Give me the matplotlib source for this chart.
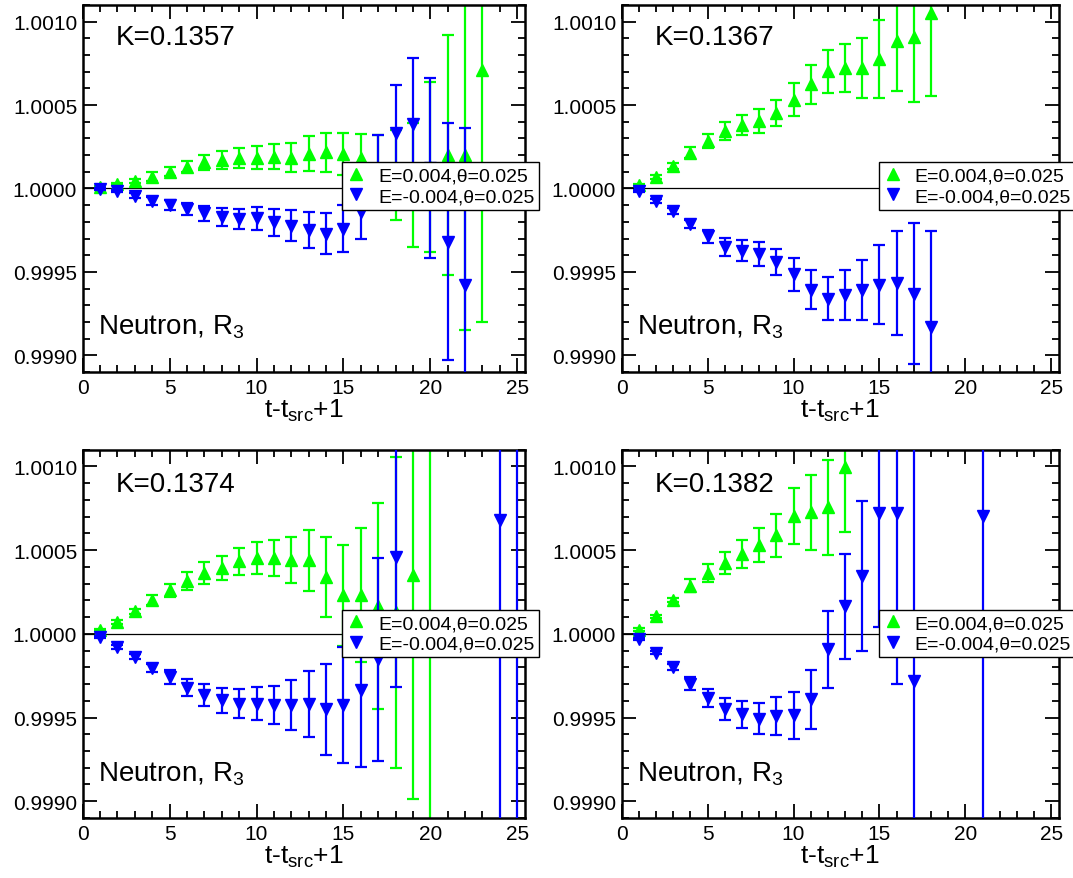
import matplotlib
matplotlib.use('Agg')
import matplotlib.pyplot as plt
from matplotlib.lines import Line2D
from matplotlib.ticker import MultipleLocator, FormatStrFormatter
import numpy as np

plt.rcParams['font.family'] = ['Liberation Sans', 'DejaVu Sans']
plt.rcParams['mathtext.fontset'] = 'custom'
plt.rcParams['mathtext.rm'] = 'Liberation Sans'
plt.rcParams['mathtext.it'] = 'Liberation Sans'

# ratio - 1, in units of 1e-4 ; t = 1, 2, ...
k_labels = ['K=0.1357', 'K=0.1367', 'K=0.1374', 'K=0.1382']
legend_labels = ['E=0.004,θ=0.025', 'E=-0.004,θ=0.025']

# K=0.1357
p1_up_t = list(range(1, 24))
p1_up_dev = [0.1, 0.24, 0.44, 0.7, 1.0, 1.3, 1.56, 1.7, 1.8, 1.84, 1.9, 1.84, 2.08, 2.16, 2.04, 1.84,
             1.2, 0.8, 0.2, 1.3, 2.0, 2.0, 7.1]
p1_up_err = [0.04, 0.06, 0.12, 0.26, 0.28, 0.34, 0.44, 0.52, 0.6, 0.68, 0.76, 0.86, 1.04, 1.16, 1.26, 1.4,
             2.0, 2.7, 3.7, 5.1, 7.2, 10.5, 15.1]
p1_dn_t = list(range(1, 23))
p1_dn_dev = [-0.04, -0.16, -0.44, -0.74, -1.0, -1.24, -1.5, -1.7, -1.84, -1.8, -2.04, -2.24, -2.5, -2.7,
             -2.4, -1.44, 1.0, 3.3, 3.84, 1.24, -3.2, -5.8]
p1_dn_err = [0.04, 0.08, 0.16, 0.24, 0.3, 0.36, 0.44, 0.54, 0.58, 0.66, 0.8, 0.92, 1.06, 1.22, 1.4, 1.56,
             2.2, 2.9, 4.0, 5.4, 7.1, 9.4]

# K=0.1367
p2_up_t = list(range(1, 19))
p2_up_dev = [0.2, 0.7, 1.35, 2.15, 2.84, 3.44, 3.8, 4.04, 4.53, 5.33, 6.26, 7.02, 7.22, 7.22, 7.77, 8.85,
             9.1, 10.5]
p2_up_err = [0.06, 0.12, 0.16, 0.32, 0.42, 0.54, 0.62, 0.7, 0.8, 1.0, 1.17, 1.29, 1.43, 1.79, 2.35, 3.02,
             3.94, 4.97]
p2_dn_t = list(range(1, 19))
p2_dn_dev = [-0.18, -0.74, -1.37, -2.13, -2.86, -3.48, -3.72, -3.92, -4.41, -5.15, -6.06, -6.6, -6.4,
             -6.1, -5.77, -5.67, -6.3, -8.29]
p2_dn_err = [0.06, 0.12, 0.18, 0.24, 0.4, 0.54, 0.62, 0.7, 0.8, 0.97, 1.15, 1.29, 1.49, 1.81, 2.37, 3.14,
             4.21, 5.77]

# K=0.1374
p3_up_t = list(range(1, 21))
p3_up_dev = [0.22, 0.7, 1.35, 2.05, 2.6, 3.14, 3.64, 3.94, 4.33, 4.53, 4.53, 4.39, 4.39, 3.4, 2.31, 2.31,
             1.65, 1.29, 3.54, 0.4]
p3_up_err = [0.06, 0.12, 0.14, 0.3, 0.4, 0.54, 0.66, 0.74, 0.82, 0.93, 1.09, 1.37, 1.83, 2.37, 3.02, 4.02,
             6.16, 9.28, 13.38, 12.0]
p3_dn_t = list(range(1, 19)) + [24, 25]
p3_dn_dev = [-0.2, -0.78, -1.37, -2.03, -2.58, -3.22, -3.68, -3.98, -4.17, -4.17, -4.27, -4.25, -4.17,
             -4.51, -4.25, -3.38, -1.53, 4.59, 6.82, 0.2]
p3_dn_err = [0.06, 0.1, 0.14, 0.24, 0.4, 0.52, 0.66, 0.76, 0.85, 0.99, 1.13, 1.51, 1.97, 2.7, 3.48, 4.55,
             6.06, 7.75, 19.0, 13.0]

# K=0.1382
p4_up_t = list(range(1, 14))
p4_up_dev = [0.26, 1.05, 2.0, 2.88, 3.64, 4.23, 4.79, 5.33, 5.88, 7.02, 7.26, 7.55, 9.94]
p4_up_err = [0.08, 0.1, 0.12, 0.38, 0.56, 0.66, 0.84, 1.01, 1.27, 1.67, 2.25, 2.84, 3.86]
p4_dn_t = list(range(1, 18)) + [21]
p4_dn_dev = [-0.28, -1.13, -1.99, -2.98, -3.82, -4.47, -4.81, -5.07, -4.91, -4.87, -3.92, -0.93, 1.65,
             3.44, 7.22, 7.22, -2.82, 7.06]
p4_dn_err = [0.06, 0.1, 0.16, 0.4, 0.54, 0.66, 0.8, 0.93, 1.11, 1.41, 1.79, 2.31, 3.14, 4.47, 6.82, 10.2,
             15.0, 19.0]

panels = [
    (p1_up_t, p1_up_dev, p1_up_err, p1_dn_t, p1_dn_dev, p1_dn_err),
    (p2_up_t, p2_up_dev, p2_up_err, p2_dn_t, p2_dn_dev, p2_dn_err),
    (p3_up_t, p3_up_dev, p3_up_err, p3_dn_t, p3_dn_dev, p3_dn_err),
    (p4_up_t, p4_up_dev, p4_up_err, p4_dn_t, p4_dn_dev, p4_dn_err),
]

green = '#00ff00'
blue = '#0000ff'

fig = plt.figure(figsize=(10.73, 8.79), dpi=100)
boxes = [
    [0.0771, 0.5757, 0.4122, 0.4175],
    [0.5794, 0.5757, 0.4076, 0.4175],
    [0.0771, 0.0683, 0.4122, 0.4189],
    [0.5794, 0.0683, 0.4076, 0.4189],
]
leg_pos = [(0.586, 0.572), (0.588, 0.572), (0.586, 0.566), (0.588, 0.566)]
k_y = [0.913, 0.913, 0.907, 0.907]
n_y = [0.125, 0.125, 0.122, 0.122]

for i, (box, data) in enumerate(zip(boxes, panels)):
    ax = fig.add_axes(box)
    ut, ud, ue, dt, dd, de = data
    ax.axhline(1.0, color='black', lw=0.9, zorder=1)
    ax.errorbar(ut, 1 + np.array(ud) * 1e-4, yerr=np.array(ue) * 1e-4, fmt='^', color=green,
                ms=9, elinewidth=1.6, capsize=4.5, capthick=1.6, zorder=2)
    ax.errorbar(dt, 1 + np.array(dd) * 1e-4, yerr=np.array(de) * 1e-4, fmt='v', color=blue,
                ms=9, elinewidth=1.6, capsize=4.5, capthick=1.6, zorder=3)

    ax.set_xlim(0, 25.45)
    ax.set_ylim(0.9989, 1.0011)
    ax.xaxis.set_major_locator(MultipleLocator(5))
    ax.xaxis.set_minor_locator(MultipleLocator(1))
    ax.yaxis.set_major_locator(MultipleLocator(0.0005))
    ax.yaxis.set_minor_locator(MultipleLocator(0.0001))
    ax.yaxis.set_major_formatter(FormatStrFormatter('%.4f'))
    ax.tick_params(which='both', direction='in', top=True, right=True, labelsize=15, width=1.3)
    ax.tick_params(which='major', length=10, pad=4)
    ax.tick_params(which='minor', length=5)
    for sp in ax.spines.values():
        sp.set_linewidth(1.8)
    ax.set_xlabel(r't-t$_{\mathrm{src}}$+1', fontsize=19, labelpad=0)

    ax.text(0.075, k_y[i], k_labels[i], transform=ax.transAxes, fontsize=20, va='center', ha='left')
    ax.text(0.035, n_y[i], r'Neutron, R$_3$', transform=ax.transAxes, fontsize=20, va='center', ha='left')

    handles = [Line2D([], [], ls='none', marker='^', color=green, ms=9),
               Line2D([], [], ls='none', marker='v', color=blue, ms=9)]
    leg = ax.legend(handles, legend_labels, loc='upper left', bbox_to_anchor=leg_pos[i],
                    borderaxespad=0, fontsize=14, frameon=True, fancybox=False,
                    edgecolor='black', handlelength=1.0, handletextpad=0.6, borderpad=0.25,
                    labelspacing=0.15, framealpha=1)
    leg.get_frame().set_linewidth(1.0)
    leg.set_zorder(5)

fig.savefig('out.png', dpi=100)
